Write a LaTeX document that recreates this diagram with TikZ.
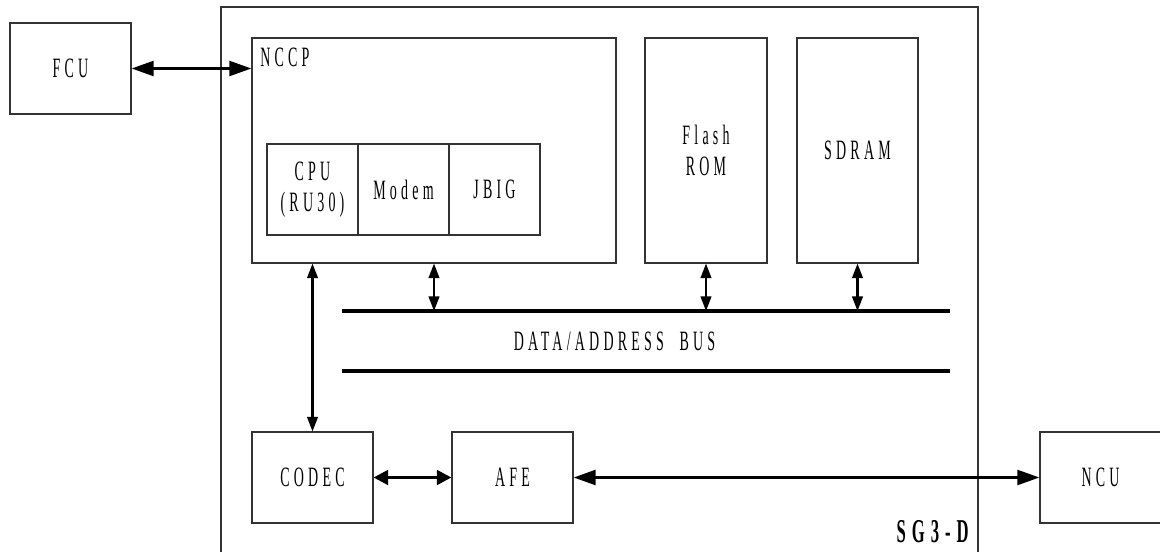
\documentclass[tikz,border=0pt]{standalone}
\usepackage{fontspec}
\setmainfont{Liberation Serif}[FakeStretch=0.5, LetterSpace=15]
\usetikzlibrary{arrows.meta}
\begin{document}
\begin{tikzpicture}[x=0.75pt,y=-0.75pt,
  lbl/.style={font=\fontsize{21}{23}\selectfont, inner sep=0pt},
  box/.style={draw=black!80, line width=0.8pt, inner sep=0pt, align=center, lbl},
  bigarr/.style={line width=2.3pt, {Triangle[length=16.5pt,width=11pt]}-{Triangle[length=16.5pt,width=11pt]}},
  midarr/.style={line width=2.3pt, {Triangle[length=11pt,width=11pt]}-{Triangle[length=11pt,width=11pt]}},
  vertarr/.style={line width=1.6pt, {Triangle[length=11pt,width=8pt]}-{Triangle[length=11pt,width=8pt]}},
  busline/.style={line width=2.3pt}
]
\useasboundingbox (0,0) rectangle (1160,552);
% outer SG3-D frame
\coordinate (otl) at (221,7);
\coordinate (otr) at (978,7);
\coordinate (obl) at (221,553);
\coordinate (obr) at (978,553);
\draw[draw=black!80, line width=0.8pt] (obl) -- (otl) -- (otr) -- (obr);
% boxes
\node[box, minimum width=121*0.75pt, minimum height=91*0.75pt] (fcu) at (70.5,68.5) {FCU};
\node[box, minimum width=364*0.75pt, minimum height=225*0.75pt] (nccp) at (434,150.5) {};
\node[lbl, anchor=west] (nccplbl) at (260,57) {NCCP};
\node[box, minimum width=91*0.75pt, minimum height=91*0.75pt] (cpu) at (312.5,189.5) {CPU\\(RU30)};
\node[box, minimum width=91*0.75pt, minimum height=91*0.75pt] (modem) at (403.5,189.5) {Modem};
\node[box, minimum width=91*0.75pt, minimum height=91*0.75pt] (jbig) at (494.5,189.5) {JBIG};
\node[box, minimum width=122*0.75pt, minimum height=225*0.75pt] (flash) at (706,150.5) {Flash\\ROM};
\node[box, minimum width=121*0.75pt, minimum height=225*0.75pt] (sdram) at (857.5,150.5) {SDRAM};
\node[box, minimum width=121*0.75pt, minimum height=91*0.75pt] (codec) at (312.5,477.5) {CODEC};
\node[box, minimum width=121*0.75pt, minimum height=91*0.75pt] (afe) at (512.5,477.5) {AFE};
\node[box, minimum width=121*0.75pt, minimum height=91*0.75pt] (ncu) at (1100.5,477.5) {NCU};
% bus
\coordinate (b1w) at (342,311);
\coordinate (b1e) at (950,311);
\coordinate (b2w) at (342,371);
\coordinate (b2e) at (950,371);
\draw[busline] (b1w) -- (b1e);
\draw[busline] (b2w) -- (b2e);
\node[lbl] (buslbl) at (614.5,341) {DATA/ADDRESS\hspace{6pt} BUS};
\node[lbl, font=\fontsize{25}{27}\selectfont\bfseries\addfontfeatures{LetterSpace=18}, anchor=east] (sg) at (969,532) {SG3-D};
% connectors
\draw[bigarr] (fcu.east) -- (fcu.east -| nccp.west);
\draw[vertarr] (nccp.south) -- (nccp.south |- b1w);
\draw[vertarr] (flash.south) -- (flash.south |- b1w);
\draw[vertarr] (sdram.south) -- (sdram.south |- b1w);
\draw[vertarr] (codec.north |- nccp.south) -- (codec.north);
\draw[midarr] (codec.east) -- (afe.west);
\draw[bigarr] (afe.east) -- (ncu.west);
\end{tikzpicture}
\end{document}
